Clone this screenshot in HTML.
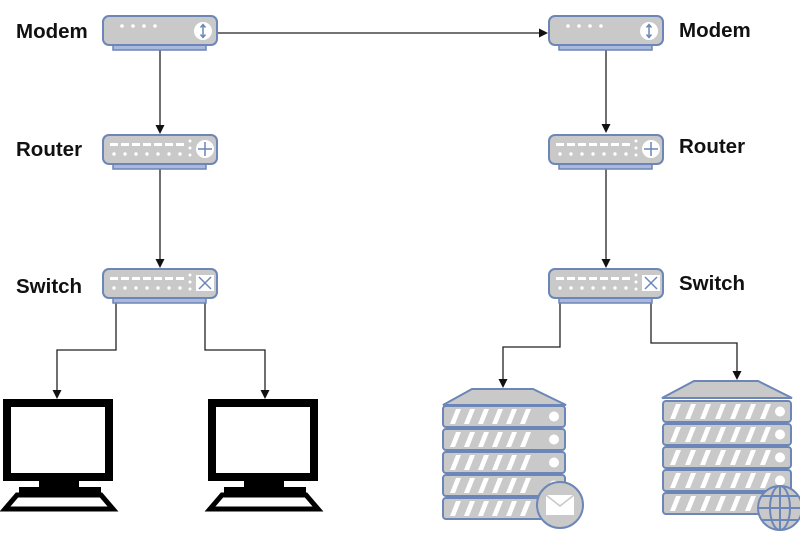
<!DOCTYPE html>
<html><head><meta charset="utf-8"><style>
html,body{margin:0;padding:0;background:#fff;width:800px;height:550px;overflow:hidden}
text{font-family:"Liberation Sans",sans-serif;font-weight:bold;font-size:20.5px;fill:#111}
</style></head><body>
<svg width="800" height="550" viewBox="0 0 800 550" xmlns="http://www.w3.org/2000/svg">
<defs>
<g id="box">
<rect x="11" y="29" width="93" height="6" fill="#a9b8dc" stroke="#6c86b8" stroke-width="1.5"/>
<rect x="1" y="1" width="114" height="29" rx="6" fill="#c9c9c9" stroke="#6c86b8" stroke-width="2"/>
</g>
<g id="modem">
<use href="#box"/>
<g fill="#fff"><circle cx="20" cy="11" r="1.8"/><circle cx="31" cy="11" r="1.8"/><circle cx="42" cy="11" r="1.8"/><circle cx="53" cy="11" r="1.8"/></g>
<circle cx="101" cy="16" r="9" fill="#fff"/>
<path d="M101 10v12M98.5 12.5l2.5-3 2.5 3M98.5 19.5l2.5 3 2.5-3" stroke="#6c86b8" stroke-width="1.5" fill="none"/>
</g>
<g id="ports" fill="#fff">
<rect x="8" y="9" width="8" height="3"/><rect x="19" y="9" width="8" height="3"/><rect x="30" y="9" width="8" height="3"/><rect x="41" y="9" width="8" height="3"/><rect x="52" y="9" width="8" height="3"/><rect x="63" y="9" width="8" height="3"/><rect x="74" y="9" width="8" height="3"/>
<circle cx="12" cy="20" r="1.7"/><circle cx="23" cy="20" r="1.7"/><circle cx="34" cy="20" r="1.7"/><circle cx="45" cy="20" r="1.7"/><circle cx="56" cy="20" r="1.7"/><circle cx="67" cy="20" r="1.7"/><circle cx="78" cy="20" r="1.7"/>
<circle cx="88" cy="7" r="1.5"/><circle cx="88" cy="14" r="1.5"/><circle cx="88" cy="21" r="1.5"/>
</g>
<g id="router">
<use href="#box"/><use href="#ports"/>
<circle cx="103" cy="15" r="9" fill="#fff"/>
<path d="M103 8v14M96 15h14" stroke="#6c86b8" stroke-width="1.5"/>
</g>
<g id="switch">
<use href="#box"/><use href="#ports"/>
<rect x="94" y="7" width="18" height="16" fill="#fff"/>
<path d="M97 9l12 12M109 9l-12 12" stroke="#6c86b8" stroke-width="1.5"/>
</g>
<g id="monitor">
<rect x="4" y="4" width="102" height="74" fill="#fff" stroke="#000" stroke-width="8"/>
<rect x="36" y="80" width="40" height="10" fill="#000"/>
<rect x="16" y="88" width="82" height="8" fill="#000"/>
<path d="M14 96h84l12 14H2z" fill="#fff" stroke="#000" stroke-width="5"/>
</g>
<g id="unit1">
<rect x="1" y="0" width="122" height="21" rx="3" fill="#c9c9c9" stroke="#6c86b8" stroke-width="2"/>
<path d="M8 18l6-15h5l-6 15zM22 18l6-15h5l-6 15zM36 18l6-15h5l-6 15zM50 18l6-15h5l-6 15zM64 18l6-15h5l-6 15zM78 18l6-15h5l-6 15z" fill="#fff"/>
<circle cx="112" cy="10.5" r="5" fill="#fff"/>
</g>
<g id="unit2">
<rect x="1" y="0" width="128" height="21" rx="3" fill="#c9c9c9" stroke="#6c86b8" stroke-width="2"/>
<path d="M8 18l6-15h5l-6 15zM23 18l6-15h5l-6 15zM38 18l6-15h5l-6 15zM53 18l6-15h5l-6 15zM68 18l6-15h5l-6 15zM83 18l6-15h5l-6 15zM98 18l6-15h5l-6 15z" fill="#fff"/>
<circle cx="118" cy="10.5" r="5" fill="#fff"/>
</g>
</defs>

<g stroke="#222" stroke-width="1.3" fill="none">
<path d="M218 33H542"/><path d="M160 50V128"/><path d="M606 50V127"/>
<path d="M160 168V262"/><path d="M606 168V262"/>
<path d="M116 303V350H57V393"/><path d="M205 303V350H265V393"/>
<path d="M560 303V347H503V382"/><path d="M651 303V343H737V374"/>
</g>
<g fill="#111">
<path d="M548 33l-9-4.5v9z"/>
<path d="M160 134l-4.5-9h9z"/><path d="M606 133l-4.5-9h9z"/>
<path d="M160 268l-4.5-9h9z"/><path d="M606 268l-4.5-9h9z"/>
<path d="M57 399l-4.5-9h9z"/><path d="M265 399l-4.5-9h9z"/>
<path d="M503 388l-4.5-9h9z"/><path d="M737 380l-4.5-9h9z"/>
</g>

<use href="#modem" x="102" y="15"/>
<use href="#modem" x="548" y="15"/>
<use href="#router" x="102" y="134"/>
<use href="#router" x="548" y="134"/>
<use href="#switch" x="102" y="268"/>
<use href="#switch" x="548" y="268"/>

<text x="16" y="38">Modem</text>
<text x="16" y="156">Router</text>
<text x="16" y="293">Switch</text>
<text x="679" y="37">Modem</text>
<text x="679" y="153">Router</text>
<text x="679" y="290">Switch</text>

<use href="#monitor" x="3" y="399"/>
<use href="#monitor" x="208" y="399"/>

<path d="M472 389H533L566 405H443Z" fill="#c9c9c9" stroke="#6c86b8" stroke-width="2"/>
<use href="#unit1" x="442" y="406"/><use href="#unit1" x="442" y="429"/><use href="#unit1" x="442" y="452"/><use href="#unit1" x="442" y="475"/><use href="#unit1" x="442" y="498"/>
<circle cx="560" cy="505" r="23" fill="#c9c9c9" stroke="#6c86b8" stroke-width="2"/>
<rect x="546" y="495" width="28" height="20" fill="#fff"/>
<path d="M546 495l14 11 14-11" stroke="#c9c9c9" stroke-width="1.5" fill="none"/>

<path d="M694 381H758L792 398H662Z" fill="#c9c9c9" stroke="#6c86b8" stroke-width="2"/>
<use href="#unit2" x="662" y="401"/><use href="#unit2" x="662" y="424"/><use href="#unit2" x="662" y="447"/><use href="#unit2" x="662" y="470"/><use href="#unit2" x="662" y="493"/>
<g stroke="#6c86b8" stroke-width="2" fill="#c9c9c9">
<circle cx="780" cy="508" r="22"/>
<ellipse cx="780" cy="508" rx="10" ry="22" fill="none"/>
<path d="M780 486v44M758 508h44M762 496h36M762 520h36" fill="none"/>
</g>
</svg>
</body></html>
